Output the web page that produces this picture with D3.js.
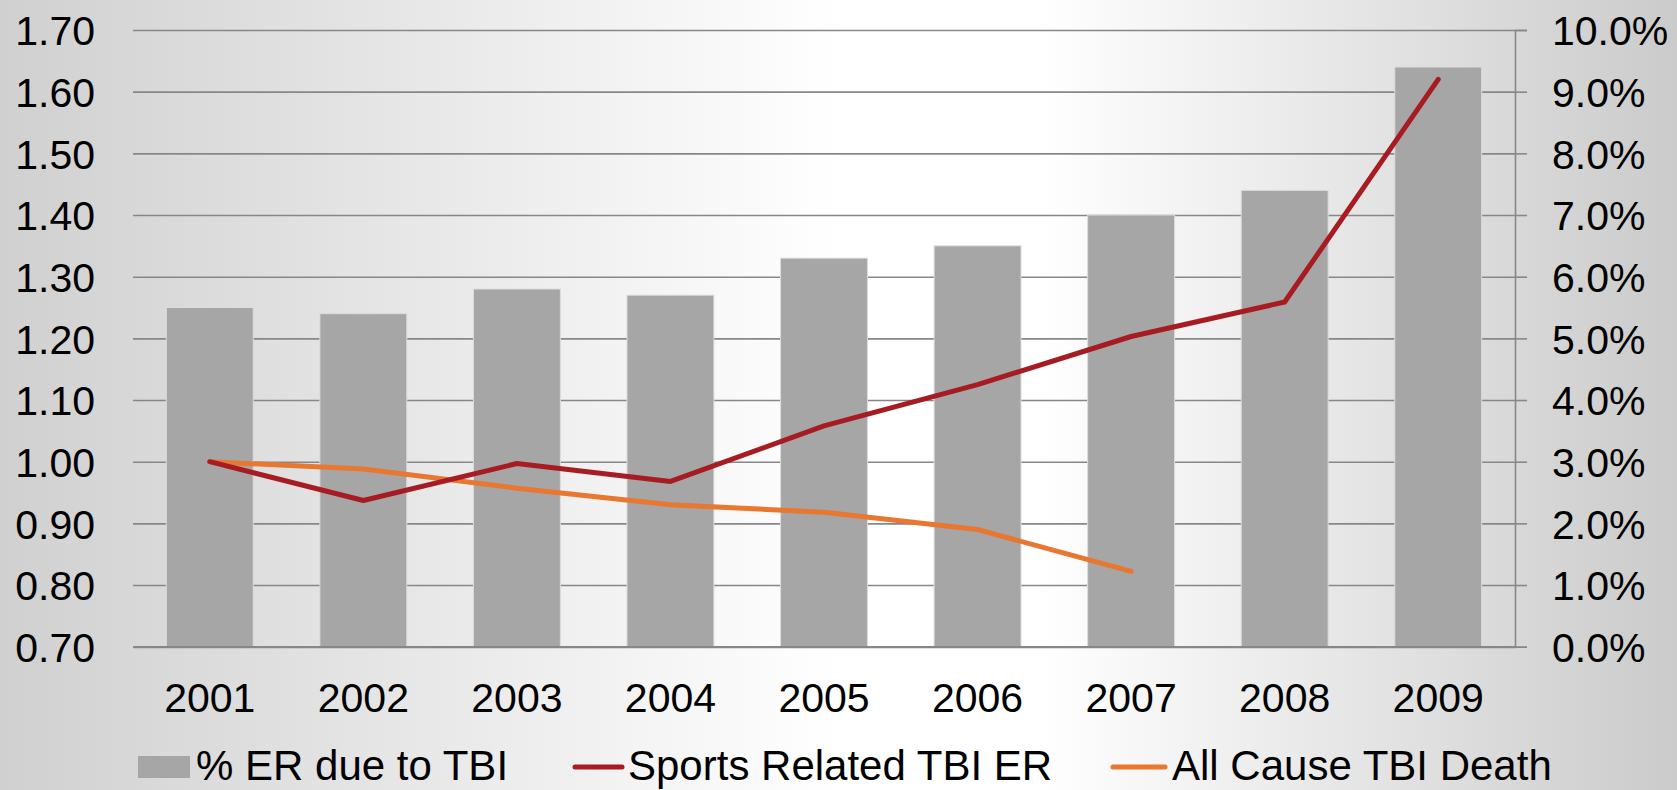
<!DOCTYPE html>
<html>
<head>
<meta charset="utf-8">
<script src="https://cdn.jsdelivr.net/npm/d3@7/dist/d3.min.js"></script>
<style>
  html, body { margin: 0; padding: 0; background: #fff; }
  svg { display: block; }
  text { font-family: "Liberation Sans", Arial, sans-serif; fill: #000; }
</style>
</head>
<body>
<svg id="chart" width="1677" height="790"></svg>
<script>
// ---- data ----
const years = ["2001","2002","2003","2004","2005","2006","2007","2008","2009"];
const pctERdueToTBI = [0.055, 0.054, 0.058, 0.057, 0.063, 0.065, 0.070, 0.074, 0.094];
const sportsRelatedTBIER = [1.00, 0.937, 0.997, 0.968, 1.058, 1.125, 1.203, 1.259, 1.62];
const allCauseTBIDeath = [1.00, 0.988, 0.957, 0.930, 0.918, 0.890, 0.822];
const leftTicks = [0.70, 0.80, 0.90, 1.00, 1.10, 1.20, 1.30, 1.40, 1.50, 1.60, 1.70];
const rightTicks = [0, 0.01, 0.02, 0.03, 0.04, 0.05, 0.06, 0.07, 0.08, 0.09, 0.10];
const legendLabels = ["% ER due to TBI", "Sports Related TBI ER", "All Cause TBI Death"];

// ---- layout ----
const W = 1677, H = 790;
const plot = { left: 133, right: 1515, top: 30, bottom: 646.7 };
const colors = { bar: "#a6a6a6", sports: "#a71c23", death: "#e8772f", grid: "#878787" };

const svg = d3.select("#chart");

// background gradient
const defs = svg.append("defs");
const grad = defs.append("linearGradient").attr("id", "bg").attr("x1", "0").attr("x2", "1").attr("y1", "0").attr("y2", "0");
grad.append("stop").attr("offset", "0%").attr("stop-color", "#d0d0d0");
grad.append("stop").attr("offset", "50%").attr("stop-color", "#ffffff");
grad.append("stop").attr("offset", "62%").attr("stop-color", "#ffffff");
grad.append("stop").attr("offset", "100%").attr("stop-color", "#cbcbcb");
svg.append("rect").attr("width", W).attr("height", H).attr("fill", "url(#bg)");

// scales
const x = d3.scaleBand().domain(years).range([plot.left, plot.right]).paddingInner(0.434).paddingOuter(0.217);
const yL = d3.scaleLinear().domain([0.7, 1.7]).range([plot.bottom, plot.top]);
const yR = d3.scaleLinear().domain([0, 0.10]).range([plot.bottom, plot.top]);

// gridlines (from left axis ticks)
const grid = svg.append("g").attr("transform", `translate(${plot.left},0)`)
  .call(d3.axisLeft(yL).tickValues(leftTicks).tickSize(-(plot.right - plot.left)).tickFormat(""));
grid.select(".domain").remove();
grid.selectAll(".tick line").attr("stroke", colors.grid).attr("stroke-width", 1.6);

// left axis labels
const gl = svg.append("g").attr("transform", `translate(${plot.left},0)`)
  .call(d3.axisLeft(yL).tickValues(leftTicks).tickSize(0).tickPadding(38).tickFormat(d3.format(".2f")));
gl.select(".domain").remove();
gl.selectAll("text").attr("font-size", 41).attr("font-family", "Liberation Sans, Arial, sans-serif").attr("fill", "#000").attr("dy", "0.36em");

// bars
svg.append("g").selectAll("rect").data(years).join("rect")
  .attr("x", d => x(d))
  .attr("width", x.bandwidth())
  .attr("y", (d, i) => yR(pctERdueToTBI[i]))
  .attr("height", (d, i) => yR(0) - yR(pctERdueToTBI[i]))
  .attr("fill", colors.bar)
  .attr("stroke", "#dcdcdc").attr("stroke-width", 1);

// right axis
const gr = svg.append("g").attr("transform", `translate(${plot.right},0)`)
  .call(d3.axisRight(yR).tickValues(rightTicks).tickSize(12).tickPadding(25).tickFormat(d3.format(".1%")));
gr.select(".domain").attr("stroke", colors.grid).attr("stroke-width", 1.6);
gr.selectAll(".tick line").attr("stroke", colors.grid).attr("stroke-width", 1.6);
gr.selectAll("text").attr("font-size", 41).attr("font-family", "Liberation Sans, Arial, sans-serif").attr("fill", "#000").attr("dy", "0.36em");

// bottom axis
const gb = svg.append("g").attr("transform", `translate(0,${plot.bottom})`)
  .call(d3.axisBottom(x).tickSize(0).tickPadding(36));
gb.select(".domain").attr("stroke", colors.grid).attr("stroke-width", 2.2);
gb.selectAll("text").attr("font-size", 41).attr("font-family", "Liberation Sans, Arial, sans-serif").attr("fill", "#000");

// lines
const cx = d => x(d) + x.bandwidth() / 2;
const line = d3.line().x(d => cx(d[0])).y(d => yL(d[1]));
svg.append("path").datum(years.map((y, i) => [y, allCauseTBIDeath[i]]).filter(d => d[1] != null))
  .attr("d", line).attr("fill", "none").attr("stroke", colors.death).attr("stroke-width", 5)
  .attr("stroke-linecap", "round").attr("stroke-linejoin", "round");
svg.append("path").datum(years.map((y, i) => [y, sportsRelatedTBIER[i]]))
  .attr("d", line).attr("fill", "none").attr("stroke", colors.sports).attr("stroke-width", 5)
  .attr("stroke-linecap", "round").attr("stroke-linejoin", "round");

// legend
const lg = svg.append("g");
const legY = 767, legBase = 780;
lg.append("rect").attr("x", 138).attr("y", legY - 11).attr("width", 52).attr("height", 22).attr("fill", colors.bar);
lg.append("text").attr("x", 196).attr("y", legBase).attr("font-size", 42).text(legendLabels[0]);
lg.append("line").attr("x1", 575).attr("x2", 622).attr("y1", legY).attr("y2", legY)
  .attr("stroke", colors.sports).attr("stroke-width", 5).attr("stroke-linecap", "round");
lg.append("text").attr("x", 628).attr("y", legBase).attr("font-size", 42).text(legendLabels[1]);
lg.append("line").attr("x1", 1113).attr("x2", 1165).attr("y1", legY).attr("y2", legY)
  .attr("stroke", colors.death).attr("stroke-width", 5).attr("stroke-linecap", "round");
lg.append("text").attr("x", 1172).attr("y", legBase).attr("font-size", 42).text(legendLabels[2]);
</script>
</body>
</html>
